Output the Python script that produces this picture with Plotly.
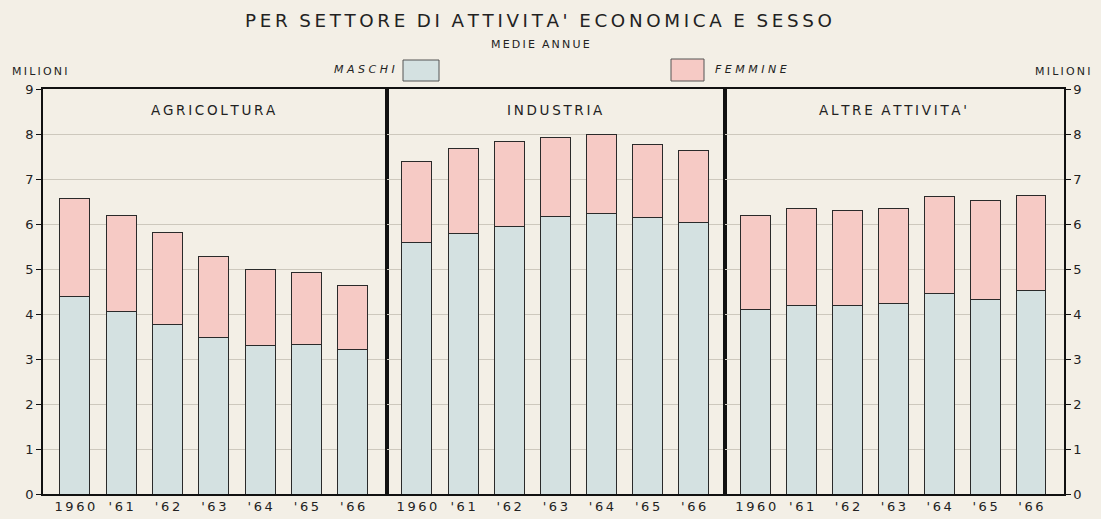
import plotly.graph_objects as go

years = ["1960", "'61", "'62", "'63", "'64", "'65", "'66"]
sectors = ["AGRICOLTURA", "INDUSTRIA", "ALTRE  ATTIVITA'"]

agri_m = [4.40, 4.05, 3.76, 3.47, 3.31, 3.33, 3.22]
agri_f = [2.16, 2.15, 2.05, 1.80, 1.67, 1.60, 1.42]
ind_m = [5.59, 5.78, 5.94, 6.16, 6.24, 6.15, 6.04]
ind_f = [1.81, 1.89, 1.89, 1.76, 1.75, 1.62, 1.60]
altre_m = [4.11, 4.20, 4.18, 4.24, 4.46, 4.33, 4.52]
altre_f = [2.07, 2.14, 2.13, 2.11, 2.16, 2.19, 2.11]

y_ticks = list(range(0, 10))

BG = "#f3efe6"
C_M = "#d4e1e1"
C_F = "#f6cac5"
FONT = "DejaVu Sans"
TS = "\u2009"  # thin space used as letter spacing


def spaced(s):
    return "  ".join(TS.join(list(w)) for w in s.split())


fig = go.Figure()

data = [(agri_m, agri_f), (ind_m, ind_f), (altre_m, altre_f)]
axes = [("x", "y"), ("x2", "y2"), ("x3", "y3")]
for (m, f), (xa, ya) in zip(data, axes):
    fig.add_trace(go.Bar(x=years, y=m, name="MASCHI", xaxis=xa, yaxis=ya,
                         marker=dict(color=C_M, line=dict(color="#2a2a2a", width=1)),
                         width=0.65, showlegend=False))
    fig.add_trace(go.Bar(x=years, y=f, name="FEMMINE", xaxis=xa, yaxis=ya,
                         marker=dict(color=C_F, line=dict(color="#2a2a2a", width=1)),
                         width=0.65, showlegend=False))

xcommon = dict(type="category", showgrid=False, zeroline=False, showline=True,
               linecolor="#111", linewidth=1.5, mirror=True, ticks="",
               automargin=False, tickvals=years, ticktext=[spaced(y) for y in years],
               tickfont=dict(family=FONT, size=13, color="#222"))
ycommon = dict(range=[0, 9], tickvals=y_ticks, showgrid=True, gridcolor="#cdc8bd",
               gridwidth=1, zeroline=False, showline=True, linecolor="#111",
               linewidth=1.5, mirror=True, automargin=False,
               tickfont=dict(family=FONT, size=13, color="#222"))

fig.update_layout(
    barmode="stack",
    width=1101, height=519,
    margin=dict(l=43, r=37, t=89, b=25, autoexpand=False),
    paper_bgcolor=BG, plot_bgcolor=BG,
    xaxis=dict(xcommon, domain=[0, 0.3369], range=[-0.69, 6.74], anchor="y"),
    xaxis2=dict(xcommon, domain=[0.3369, 0.668], range=[-0.65, 6.68], anchor="y2"),
    xaxis3=dict(xcommon, domain=[0.668, 1.0], range=[-0.67, 6.72], anchor="y3"),
    yaxis=dict(ycommon, anchor="x", side="left", ticks="outside", ticklen=5,
               tickcolor="#111"),
    yaxis2=dict(ycommon, anchor="x2", matches="y", showticklabels=False, ticks=""),
    yaxis3=dict(ycommon, anchor="x3", matches="y", side="right", ticks="outside",
                ticklen=5, tickcolor="#111"),
)

# Panel headers
for name, (xa, ya) in zip(sectors, axes):
    fig.add_annotation(x=3, y=8.53, xref=xa, yref=ya, text=spaced(name), showarrow=False,
                       xanchor="center", yanchor="middle",
                       font=dict(family=FONT, size=13.5, color="#222"))


def px(xp):
    return (xp - 43) / 1021


def py(yp):
    return (494 - yp) / 405


def label(x, y, text, size, xanchor="center"):
    fig.add_annotation(xref="paper", yref="paper", x=px(x), y=py(y), text=text,
                       showarrow=False, xanchor=xanchor, yanchor="middle",
                       font=dict(family=FONT, size=size, color="#222"))


label(538, 20, spaced("PER SETTORE DI ATTIVITA' ECONOMICA E SESSO"), 18.3)
label(540, 45, spaced("MEDIE ANNUE"), 11)
label(39, 72, spaced("MILIONI"), 11)
label(1062, 72, spaced("MILIONI"), 11)

# Legend
fig.add_shape(type="rect", xref="paper", yref="paper",
              x0=px(403), x1=px(439), y0=py(81), y1=py(60),
              fillcolor=C_M, line=dict(color="#555", width=1))
label(397, 69, "<i>M A S C H I</i>", 11, xanchor="right")
fig.add_shape(type="rect", xref="paper", yref="paper",
              x0=px(671), x1=px(704), y0=py(81), y1=py(59),
              fillcolor=C_F, line=dict(color="#555", width=1))
label(713, 69, "<i>F E M M I N E</i>", 11, xanchor="left")

fig.write_html("out.html", config={"displayModeBar": False},
               post_script="document.body.style.margin='0';")
